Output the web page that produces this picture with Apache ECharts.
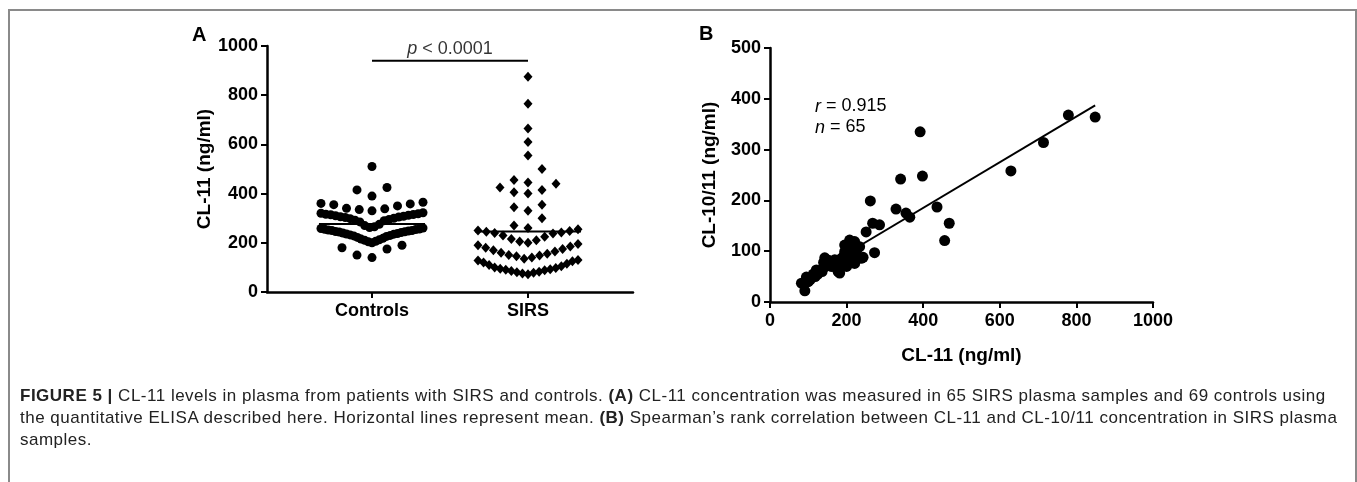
<!DOCTYPE html>
<html>
<head>
<meta charset="utf-8">
<script src="https://cdn.jsdelivr.net/npm/echarts@6/dist/echarts.min.js"></script>
<style>
  html, body { margin: 0; padding: 0; background: #fff; }
  #chart { position: absolute; left: 0; top: 0; width: 1357px; height: 482px; }
  #frame { position: absolute; left: 8px; top: 9px; width: 1345px; height: 490px;
           border: 2px solid #8a8a8a; border-bottom: none; pointer-events: none; }
  #caption { position: absolute; left: 20px; top: 385px; font-family: "Liberation Sans", Arial, sans-serif;
             font-size: 17px; letter-spacing: 0.5px; line-height: 22px; color: #222; white-space: nowrap; }
</style>
</head>
<body>
<div id="chart"></div>
<div id="frame"></div>
<div id="caption">
  <b>FIGURE 5 |</b> CL-11 levels in plasma from patients with SIRS and controls. <b>(A)</b> CL-11 concentration was measured in 65 SIRS plasma samples and 69 controls using<br>
  the quantitative ELISA described here. Horizontal lines represent mean. <b>(B)</b> Spearman’s rank correlation between CL-11 and CL-10/11 concentration in SIRS plasma<br>
  samples.
</div>
<script>
// panel A: categories + CL-11 values (ng/ml)
var groups = ["Controls", "SIRS"];
var controls = [510, 425, 415, 390, 365, 360, 358, 355, 350, 340, 338, 335, 330,
  190, 180, 175, 150, 140,
  322, 320, 318, 316, 315, 314, 312, 310, 308, 306, 305, 303, 300, 298, 295, 292, 290, 285,
  275, 270, 265, 262, 260, 258, 256, 255, 254, 252, 250, 250, 248, 246, 245, 244, 242, 240,
  238, 236, 235, 232, 230, 228, 226, 222, 218, 215, 212, 210, 206, 204, 200];
var sirs = [875, 765, 665, 610, 555, 500, 455, 445, 440, 425, 415, 405, 400, 355, 345, 330, 300, 270,
  260, 255, 250, 248, 245, 242, 240, 238,
  215, 210, 205, 200, 195, 190, 185, 180,
  170, 165, 160, 155, 150, 148, 145, 140,
  130, 125, 120, 115, 110, 105, 100, 95,
  92, 90, 88, 85, 82, 80, 78, 75, 72,
  230, 225, 175, 135, 128, 98];
var pLevel = 940;

// panel B: CL-11 vs CL-10/11 (ng/ml)
var cl11 = [82, 91, 95, 105, 113, 121, 118, 130, 136, 143, 143, 148, 153, 156, 160, 162, 169, 172, 178, 182,
  186, 188, 192, 195, 195, 198, 201, 203, 206, 208, 210, 214, 216, 221, 221, 224, 228, 234, 238, 243,
  251, 262, 268, 273, 286, 329, 341, 355, 365, 392, 398, 436, 456, 468, 629, 714, 779, 849,
  100, 125, 140, 175, 200, 212, 185];
var cl1011 = [37, 22, 49, 44, 55, 63, 50, 62, 60, 69, 87, 75, 82, 79, 70, 77, 83, 72, 60, 57,
  69, 78, 90, 99, 112, 84, 96, 83, 105, 122, 90, 100, 110, 119, 76, 95, 105, 109, 86, 88,
  138, 199, 155, 97, 152, 183, 242, 175, 167, 335, 248, 187, 121, 155, 258, 314, 368, 364,
  40, 55, 78, 65, 70, 115, 85];

var chart = echarts.init(document.getElementById("chart"));

var FONT = "Liberation Sans";
var gridA = { left: 267, top: 46, width: 366, height: 246 };
var gridB = { left: 770, top: 48, width: 383, height: 254 };
var spanA = 105 / 156; // gap outside the two columns, in x units

// Prism-like column scatter: values binned in rows, lowest of a row in the middle
function columnScatter(values, center, pxX, binSize, origin, maxW, step) {
  var bins = {};
  values.forEach(function (v) {
    var b = Math.floor((v - origin) / binSize);
    (bins[b] = bins[b] || []).push(v);
  });
  var out = [];
  Object.keys(bins).forEach(function (b) {
    var vals = bins[b].slice().sort(function (a, c) { return a - c; });
    var n = vals.length;
    var s = n > 1 ? Math.min(step, maxW / (n - 1)) : 0;
    var slots = [];
    for (var k = 0; k < n; k++) slots.push((k - (n - 1) / 2) * s);
    slots.sort(function (a, c) { return Math.abs(a) - Math.abs(c) || a - c; });
    vals.forEach(function (v, k) { out.push([center + slots[k] / pxX, v]); });
  });
  return out;
}

function mean(arr) {
  return arr.reduce(function (s, v) { return s + v; }, 0) / arr.length;
}

var pxX = gridA.width / (1 + 2 * spanA);
var ptsC = columnScatter(controls, 1, pxX, 62, 14, 102, 15);
var ptsS = columnScatter(sirs, 2, pxX, 62, 10, 100, 14);
var meanC = mean(controls);
var meanS = mean(sirs);

// least squares line for panel B
var mx = mean(cl11), my = mean(cl1011);
var sxy = 0, sxx = 0;
for (var i = 0; i < cl11.length; i++) {
  sxy += (cl11[i] - mx) * (cl1011[i] - my);
  sxx += (cl11[i] - mx) * (cl11[i] - mx);
}
var slope = sxy / sxx, icpt = my - slope * mx;
var xmin = Math.min.apply(null, cl11), xmax = Math.max.apply(null, cl11);
var pairs = cl11.map(function (v, i) { return [v, cl1011[i]]; });

var axisLine = { lineStyle: { color: "#000", width: 2.5 } };
var axisTick = { length: 6, lineStyle: { color: "#000", width: 2 } };
var plain = function (v) { return String(v); };
var labelStyle = { color: "#000", fontFamily: FONT, fontWeight: "bold", fontSize: 18 };
var nameStyle = { color: "#000", fontFamily: FONT, fontWeight: "bold", fontSize: 19 };
var dot = { color: "#000", opacity: 1 };

var option = {
  animation: false,
  grid: [gridA, gridB],
  xAxis: [
    {
      type: "value", gridIndex: 0, min: 1 - spanA, max: 2 + spanA,
      splitLine: { show: false }, axisLine: axisLine,
      axisTick: Object.assign({ customValues: [1, 2] }, axisTick),
      axisLabel: Object.assign({ customValues: [1, 2], margin: 10,
        formatter: function (v) { return groups[Math.round(v) - 1]; } }, labelStyle)
    },
    {
      type: "value", gridIndex: 1, min: 0, max: 1000, interval: 200,
      splitLine: { show: false }, axisLine: axisLine, axisTick: axisTick,
      axisLabel: Object.assign({ margin: 10, formatter: plain }, labelStyle),
      name: "CL-11 (ng/ml)", nameLocation: "middle", nameGap: 44, nameTextStyle: nameStyle
    }
  ],
  yAxis: [
    {
      type: "value", gridIndex: 0, min: 0, max: 1000, interval: 200,
      splitLine: { show: false }, axisLine: Object.assign({ show: true }, axisLine), axisTick: axisTick,
      axisLabel: Object.assign({ margin: 9, formatter: plain }, labelStyle),
      name: "CL-11 (ng/ml)", nameLocation: "middle", nameGap: 42, nameTextStyle: nameStyle
    },
    {
      type: "value", gridIndex: 1, min: 0, max: 500, interval: 100,
      splitLine: { show: false }, axisLine: Object.assign({ show: true }, axisLine), axisTick: axisTick,
      axisLabel: Object.assign({ margin: 9, formatter: plain }, labelStyle),
      name: "CL-10/11 (ng/ml)", nameLocation: "middle", nameGap: 51, nameTextStyle: nameStyle
    }
  ],
  graphic: [
    { type: "text", left: 192, top: 25, style: { text: "A", font: "bold 20px " + FONT, fill: "#000" } },
    { type: "text", left: 699, top: 24, style: { text: "B", font: "bold 20px " + FONT, fill: "#000" } },
    {
      type: "text", left: 815, top: 96,
      style: {
        text: "{i|r} = 0.915\n{i|n} = 65", font: "18px " + FONT, fill: "#000", lineHeight: 21,
        rich: { i: { fontStyle: "italic", fontSize: 18, fontFamily: FONT } }
      }
    }
  ],
  series: [
    {
      type: "scatter", xAxisIndex: 0, yAxisIndex: 0, symbol: "circle", symbolSize: 9,
      itemStyle: dot, data: ptsC, silent: true
    },
    {
      type: "scatter", xAxisIndex: 0, yAxisIndex: 0, symbol: "diamond", symbolSize: [9, 10],
      itemStyle: dot, data: ptsS, silent: true
    },
    {
      type: "line", xAxisIndex: 0, yAxisIndex: 0, symbol: "none", silent: true,
      lineStyle: { color: "#000", width: 2 }, data: [[1 - 0.34, meanC], [1 + 0.34, meanC]]
    },
    {
      type: "line", xAxisIndex: 0, yAxisIndex: 0, symbol: "none", silent: true,
      lineStyle: { color: "#000", width: 2 }, data: [[2 - 0.34, meanS], [2 + 0.34, meanS]]
    },
    {
      type: "line", xAxisIndex: 0, yAxisIndex: 0, symbol: "none", silent: true,
      lineStyle: { color: "#000", width: 2 }, data: [[1, pLevel], [2, pLevel]]
    },
    {
      type: "scatter", xAxisIndex: 0, yAxisIndex: 0, symbolSize: 0, silent: true,
      data: [[1.5, pLevel]],
      label: {
        show: true, position: "top", distance: 3, formatter: "{i|p} < 0.0001",
        color: "#000", fontFamily: FONT, fontSize: 18,
        rich: { i: { fontStyle: "italic", fontSize: 18, fontFamily: FONT, color: "#000" } }
      }
    },
    {
      type: "scatter", xAxisIndex: 1, yAxisIndex: 1, symbol: "circle", symbolSize: 11,
      itemStyle: dot, data: pairs, silent: true
    },
    {
      type: "line", xAxisIndex: 1, yAxisIndex: 1, symbol: "none", silent: true, z: 3,
      lineStyle: { color: "#000", width: 2 },
      data: [[xmin, icpt + slope * xmin], [xmax, icpt + slope * xmax]]
    }
  ]
};
chart.setOption(option);
</script>
</body>
</html>
